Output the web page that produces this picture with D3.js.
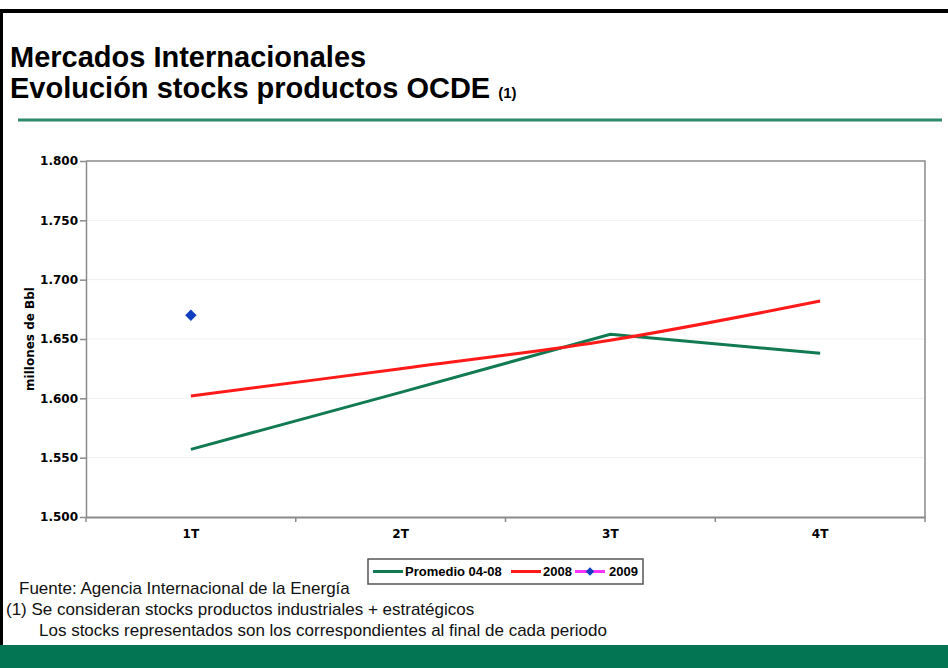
<!DOCTYPE html>
<html>
<head>
<meta charset="utf-8">
<title>Evolución stocks productos OCDE</title>
<script src="https://cdn.jsdelivr.net/npm/d3@7"></script>
<style>
  body { margin: 0; background: #fff; }
  svg { display: block; font-family: Arial, "Liberation Sans", sans-serif; }
  .tick text { font-family: "DejaVu Sans", sans-serif; font-weight: bold; font-size: 12px; fill: #000; }
  .note { font-size: 17px; fill: #111; }
</style>
</head>
<body>
<script>
// datos
var quarters = ["1T", "2T", "3T", "4T"];
var promedio = [1.557, 1.605, 1.654, 1.638];
var y2008 = [1.602, 1.625, 1.649, 1.682];
var y2009 = [1.670];
var yTicks = [1.5, 1.55, 1.6, 1.65, 1.7, 1.75, 1.8];
var seriesNames = ["Promedio 04-08", "2008", "2009"];

var W = 948, H = 668;
var plot = {left: 86, right: 925, top: 161, bottom: 517};
var green = "#127a52", red = "#ff1a1a", blue = "#1040c0", magenta = "#ff33ff";

var svg = d3.select("body").append("svg").attr("width", W).attr("height", H);

// marco de la diapositiva
svg.append("line").attr("x1", 0).attr("x2", W).attr("y1", 11).attr("y2", 11)
  .attr("stroke", "#000").attr("stroke-width", 4);
svg.append("line").attr("x1", 1.5).attr("x2", 1.5).attr("y1", 11).attr("y2", H)
  .attr("stroke", "#000").attr("stroke-width", 3);

// titulo
svg.append("text").attr("x", 10).attr("y", 67)
  .style("font-size", "29px").style("font-weight", "bold")
  .text("Mercados Internacionales");
var t2 = svg.append("text").attr("x", 10).attr("y", 98)
  .style("font-size", "29px").style("font-weight", "bold")
  .text("Evolución stocks productos OCDE ");
t2.append("tspan").style("font-size", "15px").text("(1)");

svg.append("line").attr("x1", 18).attr("x2", 942).attr("y1", 120).attr("y2", 120)
  .attr("stroke", "#2e8b6a").attr("stroke-width", 3);

// escalas
var x = d3.scaleBand().domain(quarters).range([plot.left, plot.right]);
var y = d3.scaleLinear().domain([1.5, 1.8]).range([plot.bottom, plot.top]);
var cx = function(d, i) { return x(quarters[i]) + x.bandwidth() / 2; };

// rejilla muy tenue
svg.append("g").selectAll("line").data(yTicks.slice(1, -1)).enter().append("line")
  .attr("x1", plot.left).attr("x2", plot.right)
  .attr("y1", function(d) { return y(d); }).attr("y2", function(d) { return y(d); })
  .attr("stroke", "#f0f0f0").attr("stroke-width", 1);

// borde superior y derecho
svg.append("path")
  .attr("d", "M" + plot.left + "," + plot.top + "H" + plot.right + "V" + plot.bottom)
  .attr("fill", "none").attr("stroke", "#8a8a8a").attr("stroke-width", 1.5);

// eje Y
var yAxis = d3.axisLeft(y).tickValues(yTicks).tickFormat(d3.format(".3f"))
  .tickSize(6).tickPadding(2).tickSizeOuter(0);
var gy = svg.append("g").attr("transform", "translate(" + plot.left + ",0)").call(yAxis);
gy.selectAll("path, line").attr("stroke", "#8a8a8a").attr("stroke-width", 1.5);

// eje X: etiquetas en el centro, marcas entre categorias
var xAxis = d3.axisBottom(x).tickSize(0).tickPadding(12).tickSizeOuter(0);
var gx = svg.append("g").attr("transform", "translate(0," + plot.bottom + ")").call(xAxis);
gx.select(".domain").attr("stroke", "#8a8a8a").attr("stroke-width", 2);
var bounds = quarters.map(function(q) { return x(q); }).concat([x.range()[1]]);
gx.selectAll("line.sep").data(bounds).enter().append("line").attr("class", "sep")
  .attr("x1", function(d) { return d; }).attr("x2", function(d) { return d; })
  .attr("y1", 0).attr("y2", 5).attr("stroke", "#8a8a8a").attr("stroke-width", 1.5);

// titulo eje Y
svg.append("text")
  .attr("transform", "translate(34," + ((plot.top + plot.bottom) / 2) + ") rotate(-90)")
  .attr("text-anchor", "middle")
  .style("font-family", "'DejaVu Sans', sans-serif")
  .style("font-size", "12px").style("font-weight", "bold")
  .text("millones de Bbl");

// series
var line = d3.line().x(cx).y(function(d) { return y(d); });
svg.append("path").datum(promedio).attr("d", line)
  .attr("fill", "none").attr("stroke", green).attr("stroke-width", 3);
svg.append("path").datum(y2008).attr("d", line.curve(d3.curveCatmullRom.alpha(0.5)))
  .attr("fill", "none").attr("stroke", red).attr("stroke-width", 3);
var diamond = d3.symbol().type(d3.symbolSquare).size(64);
svg.selectAll("path.p2009").data(y2009).enter().append("path").attr("class", "p2009")
  .attr("d", diamond)
  .attr("transform", function(d, i) { return "translate(" + cx(d, i) + "," + y(d) + ") rotate(45)"; })
  .attr("fill", blue);

// leyenda
var lg = svg.append("g").attr("transform", "translate(368,559)");
lg.append("rect").attr("width", 275).attr("height", 25)
  .attr("fill", "#fff").attr("stroke", "#555").attr("stroke-width", 1.5);
var items = [
  {name: seriesNames[0], x0: 5, stroke: green, tx: 37},
  {name: seriesNames[1], x0: 143, stroke: red, tx: 175},
  {name: seriesNames[2], x0: 207, stroke: magenta, tx: 241, marker: true}
];
items.forEach(function(it) {
  lg.append("line").attr("x1", it.x0).attr("x2", it.x0 + 30).attr("y1", 12.5).attr("y2", 12.5)
    .attr("stroke", it.stroke).attr("stroke-width", 3);
  if (it.marker) {
    lg.append("path").attr("d", d3.symbol().type(d3.symbolSquare).size(36))
      .attr("transform", "translate(" + (it.x0 + 15) + ",12.5) rotate(45)").attr("fill", blue);
  }
  lg.append("text").attr("x", it.tx).attr("y", 17)
    .style("font-size", "13px").style("font-weight", "bold").text(it.name);
});

// notas
svg.append("text").attr("class", "note").attr("x", 19).attr("y", 594)
  .text("Fuente: Agencia Internacional de la Energía");
svg.append("text").attr("class", "note").attr("x", 6).attr("y", 615)
  .text("(1) Se consideran stocks productos industriales + estratégicos");
svg.append("text").attr("class", "note").attr("x", 39).attr("y", 636)
  .text("Los stocks representados son los correspondientes al final de cada periodo");

// banda inferior
svg.append("rect").attr("x", 0).attr("y", 645).attr("width", W).attr("height", H - 645)
  .attr("fill", "#037552");
</script>
</body>
</html>
